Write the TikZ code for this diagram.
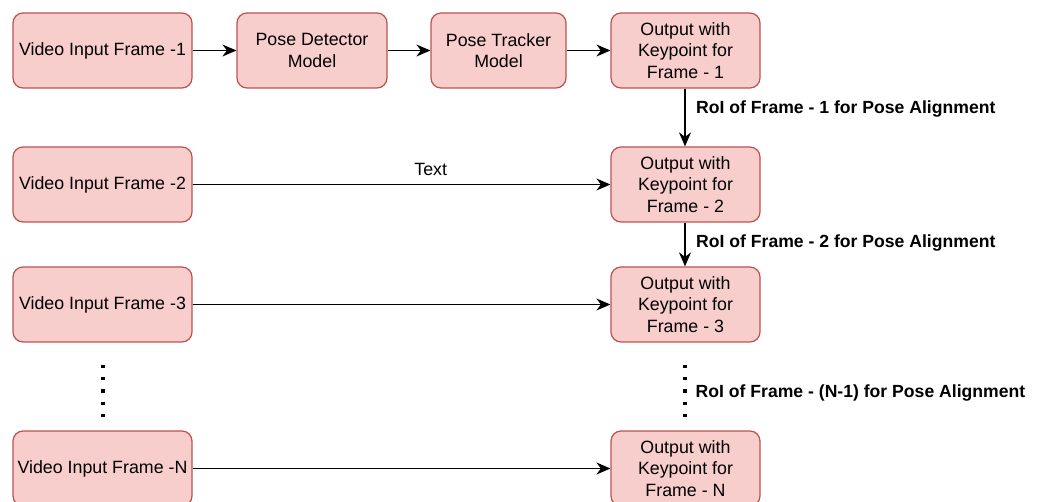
\documentclass[tikz,border=0pt]{standalone}
\usepackage{fontspec}
\setmainfont{Liberation Sans}
\usetikzlibrary{arrows.meta}

\definecolor{boxfill}{HTML}{F8CECC}
\definecolor{boxline}{HTML}{B85450}

\tikzset{
    stagebox/.style = {draw = boxline, fill = boxfill, line width = 1.2pt, rounded corners = 10pt,
        minimum height = 75pt, align = center, inner sep = 2pt,
        font = \fontsize{17.8}{21.5}\selectfont},
    flow/.style = {-{Stealth[length = 14pt, width = 12pt, inset = 4.5pt]}, line width = 1.4pt},
    roilabel/.style = {anchor = west, inner sep = 0pt, xshift = 10.5pt,
        font = \bfseries\fontsize{17.6}{21.5}\selectfont},
    dots/.style = {line width = 3.2pt, line cap = butt, dash pattern = on 3.2pt off 9.05pt}
}

\begin{document}
\begin{tikzpicture}[x = 1pt, y = -1pt]
            \useasboundingbox (0, 0) rectangle (1050, 502);

            % First frame goes through detector and tracker
            \node [stagebox, minimum width = 179pt] (in1) at (102.5, 50.5) {Video Input Frame -1};
            \node [stagebox, minimum width = 150pt] (det) at (312, 50.5) {Pose Detector\\Model};
            \node [stagebox, minimum width = 135pt] (trk) at (498.5, 50.5) {Pose Tracker\\Model};
            \node [stagebox, minimum width = 149pt] (out1) at (685.5, 50.5) {Output with\\Keypoint for\\Frame - 1};

            % Following frames
            \node [stagebox, minimum width = 179pt] (in2) at (102.5, 184.5) {Video Input Frame -2};
            \node [stagebox, minimum width = 149pt] (out2) at (685.5, 184.5) {Output with\\Keypoint for\\Frame - 2};
            \node [stagebox, minimum width = 179pt] (in3) at (102.5, 304.5) {Video Input Frame -3};
            \node [stagebox, minimum width = 149pt] (out3) at (685.5, 304.5) {Output with\\Keypoint for\\Frame - 3};
            \node [stagebox, minimum width = 179pt] (inN) at (102.5, 468.5) {Video Input Frame -N};
            \node [stagebox, minimum width = 149pt] (outN) at (685.5, 468.5) {Output with\\Keypoint for\\Frame - N};

            % Horizontal arrows
            \draw [flow] (in1) -- (det);
            \draw [flow] (det) -- (trk);
            \draw [flow] (trk) -- (out1);
            \draw [flow] (in2) -- (out2) node [pos = 0.57, above = 5pt, font = \fontsize{17.8}{21.5}\selectfont] {Text};
            \draw [flow] (in3) -- (out3);
            \draw [flow] (inN) -- (outN);

            % RoI handed down to the next frame
            \draw [flow] (out1.south -| 685, 0) -- (out2.north -| 685, 0)
                node [roilabel, pos = 0.35] {RoI of Frame - 1 for Pose Alignment};
            \draw [flow] (out2.south -| 685, 0) -- (out3.north -| 685, 0)
                node [roilabel, pos = 0.47] {RoI of Frame - 2 for Pose Alignment};

            % Skipped frames
            \coordinate (DotsLeftTop) at (103, 364.9);
            \coordinate (DotsLeftEnd) at (103, 417.2);
            \coordinate (DotsRightTop) at (685, 364.9);
            \coordinate (DotsRightEnd) at (685, 417.2);
            \draw [dots] (DotsLeftTop) -- (DotsLeftEnd);
            \draw [dots] (DotsRightTop) -- (DotsRightEnd);
            \node [roilabel] at (685, 393) {RoI of Frame - (N-1) for Pose Alignment};

        \end{tikzpicture}
\end{document}
